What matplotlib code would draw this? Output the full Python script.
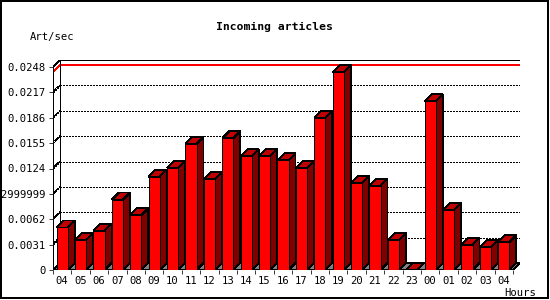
import matplotlib
matplotlib.use("Agg")
import matplotlib.pyplot as plt
from matplotlib.patches import Rectangle, Polygon

# hourly rate of incoming articles
hours = ['04', '05', '06', '07', '08', '09', '10', '11', '12', '13', '14', '15', '16',
         '17', '18', '19', '20', '21', '22', '23', '00', '01', '02', '03', '04']
rates = [0.0052, 0.0037, 0.0048, 0.0086, 0.0067, 0.0114, 0.0125, 0.0154, 0.0111,
         0.0161, 0.0139, 0.0139, 0.0134, 0.0125, 0.0186, 0.0242, 0.0106, 0.0103,
         0.0037, 0.0, 0.0206, 0.0073, 0.0031, 0.0028, 0.0034]
ytick_vals = [0, 0.0031, 0.0062, 0.0093, 0.0124, 0.0155, 0.0186, 0.0217, 0.0248]
ytick_labels = ['0', '0.0031', '0.0062', '0.0092999999', '0.0124', '0.0155',
                '0.0186', '0.0217', '0.0248']

ymax = ytick_vals[-1]
n = len(hours)

W, H = 550, 300
fig = plt.figure(figsize=(W / 100, H / 100), dpi=100)
fig.patch.set_facecolor('white')

# axes spans front plane plus 3D depth
left_px, right_px, bottom_px, top_px = 53, 520, 270, 60
ax = fig.add_axes([left_px / W, 1 - bottom_px / H,
                   (right_px - left_px) / W, (bottom_px - top_px) / H])
depth_px = 7
px_per_x = (right_px - left_px - depth_px) / n
px_per_y = (bottom_px - top_px - depth_px) / ymax
dx = depth_px / px_per_x
dy = depth_px / px_per_y
ax.set_xlim(-0.5, n - 0.5 + dx)
ax.set_ylim(0, ymax + dy)
for s in ax.spines.values():
    s.set_visible(False)
ax.patch.set_alpha(0)

lw = 0.55
aa = False
x0, x1 = -0.5, n - 0.5

# back plane
ax.add_patch(Rectangle((x0 + dx, dy), x1 - x0, ymax, facecolor='white',
                       edgecolor='black', lw=lw, antialiased=aa, zorder=1))
# grid on back plane and left wall
for v in ytick_vals[1:-1]:
    ax.plot([x0 + dx, x1 + dx], [v + dy, v + dy], color='black', lw=lw,
            linestyle=(0, (2.6, 2.6)), antialiased=aa, zorder=2)
    ax.plot([x0, x0 + dx], [v, v + dy], color='black', lw=lw,
            linestyle=(0, (2.6, 2.6)), antialiased=aa, zorder=2)
# max line
vmax = max(rates)
ax.plot([x0, x0 + dx, x1 + dx], [vmax, vmax + dy, vmax + dy], color='red', lw=lw,
        antialiased=aa, zorder=3)
# floor
ax.add_patch(Polygon([(x0, 0), (x1, 0), (x1 + dx, dy), (x0 + dx, dy)], closed=True,
                     facecolor='#808080', edgecolor='black', lw=lw, antialiased=aa, zorder=3))
# front axes and left wall edge
ax.plot([x0, x0, x0 + dx], [0, ymax, ymax + dy], color='black', lw=lw, antialiased=aa, zorder=4)
ax.plot([x0 + dx, x0 + dx], [dy, ymax + dy], color='black', lw=lw, antialiased=aa, zorder=4)

# 3D bars
bw = 0.6
for i, v in enumerate(rates):
    a, b = i - bw / 2, i + bw / 2
    ax.add_patch(Polygon([(b, 0), (b + dx, dy), (b + dx, v + dy), (b, v)], closed=True,
                         facecolor='#800000', edgecolor='black', lw=lw, antialiased=aa, zorder=5))
    ax.add_patch(Polygon([(a, v), (b, v), (b + dx, v + dy), (a + dx, v + dy)], closed=True,
                         facecolor='#c00000', edgecolor='black', lw=lw, antialiased=aa, zorder=5))
    if v > 0:
        ax.add_patch(Rectangle((a, 0), bw, v, facecolor='#ff0000', edgecolor='black',
                               lw=lw, antialiased=aa, zorder=6))

ax.plot([x0, x1], [0, 0], color='black', lw=lw, antialiased=aa, zorder=7)

font = 'DejaVu Sans Mono'
ax.set_yticks(ytick_vals)
ax.set_yticklabels(ytick_labels, fontfamily=font, fontsize=7.6)
ax.tick_params(axis='y', length=3, width=lw, pad=2)
ax.set_xticks(range(n))
ax.set_xticklabels(hours, fontfamily=font, fontsize=7.6)
ax.set_xticks([i - 0.5 for i in range(n + 1)], minor=True)
ax.tick_params(axis='x', which='major', length=0, pad=4)
ax.tick_params(axis='x', which='minor', length=3, width=lw)

fig.text(274 / W, 1 - 27 / H, 'Incoming articles', ha='center', va='center',
         fontfamily=font, fontsize=8.2, fontweight='bold')
fig.text(30 / W, 1 - 37 / H, 'Art/sec', ha='left', va='center', fontfamily=font, fontsize=7.6)
fig.text(504 / W, 1 - 293 / H, 'Hours', ha='left', va='center', fontfamily=font, fontsize=7.6)

# image frame
fig.patches.append(Rectangle((0.5 / W, 2 / H), 547 / W, 297 / H, transform=fig.transFigure,
                             fill=False, edgecolor='black', lw=1.1, antialiased=aa))

fig.savefig('out.png', dpi=100)
